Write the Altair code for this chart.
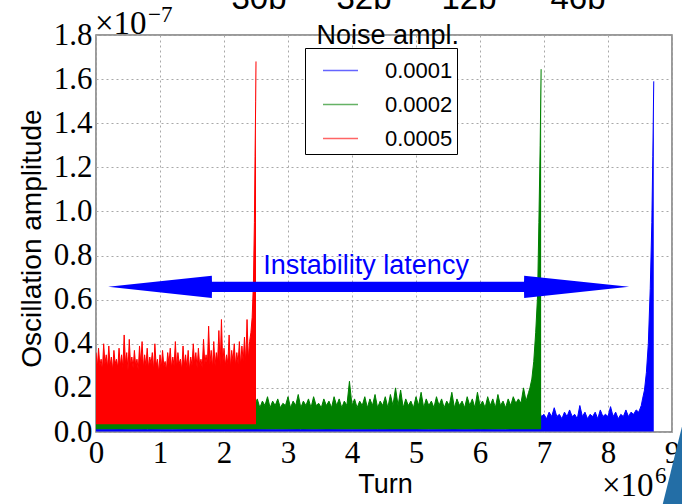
import altair as alt
import pandas as pd

# ---------------- data (x in units of 1e6 turns, y in units of 1e-7) ----------------
SERIES = ["0.0001", "0.0002", "0.0005"]
COLORS = ["#0000ff", "#008000", "#ff0000"]
LOWER = {"0.0001": 0.002, "0.0002": 0.012, "0.0005": 0.035}

# red (0.0005): noise band sampled every 0.02 from x=0, then the spike
RED_NOISE_START, RED_NOISE_STEP = 0.0, 0.02
RED_NOISE = [0.36, 0.29, 0.38, 0.30, 0.33, 0.28, 0.40, 0.31, 0.35, 0.29,
             0.39, 0.30, 0.34, 0.28, 0.37, 0.31, 0.33, 0.29, 0.38, 0.30,
             0.35, 0.29, 0.44, 0.31, 0.36, 0.28, 0.42, 0.30, 0.34, 0.29,
             0.37, 0.30, 0.33, 0.28, 0.39, 0.31, 0.41, 0.29, 0.35, 0.30,
             0.38, 0.29, 0.34, 0.31, 0.36, 0.28, 0.40, 0.30, 0.33, 0.27,
             0.35, 0.29, 0.37, 0.30, 0.32, 0.28, 0.36, 0.31, 0.38, 0.29,
             0.34, 0.30, 0.41, 0.29, 0.36, 0.31, 0.33, 0.28, 0.39, 0.30,
             0.35, 0.29, 0.37, 0.28, 0.34, 0.30, 0.40, 0.31, 0.36, 0.29,
             0.38, 0.30, 0.33, 0.29, 0.42, 0.31, 0.35, 0.30, 0.48, 0.31,
             0.37, 0.29, 0.41, 0.30, 0.36, 0.32, 0.46, 0.30, 0.51, 0.31,
             0.38, 0.30, 0.35, 0.31, 0.44, 0.29, 0.37, 0.32, 0.40, 0.30,
             0.36, 0.31, 0.41, 0.30, 0.39, 0.32, 0.43, 0.31, 0.51, 0.33,
             0.41]
RED_SPIKE_X = [2.42, 2.44, 2.46, 2.475, 2.485, 2.495, 2.50]
RED_SPIKE_Y = [0.45, 0.52, 0.68, 0.95, 1.25, 1.50, 1.68]

# green (0.0002): hidden part under red, visible band, spike
GREEN_HIDDEN_START, GREEN_HIDDEN_STEP = 0.0, 0.2
GREEN_HIDDEN = [0.13, 0.15, 0.12, 0.14, 0.16, 0.13, 0.15, 0.14, 0.12, 0.15, 0.14, 0.13]
GREEN_NOISE_START, GREEN_NOISE_STEP = 2.44, 0.04
GREEN_NOISE = [0.16, 0.12, 0.15, 0.11, 0.14, 0.12, 0.16, 0.11, 0.14, 0.12,
               0.15, 0.11, 0.13, 0.12, 0.16, 0.11, 0.14, 0.12, 0.17, 0.11,
               0.14, 0.12, 0.15, 0.11, 0.16, 0.12, 0.13, 0.11, 0.15, 0.12,
               0.14, 0.11, 0.16, 0.12, 0.15, 0.11, 0.14, 0.12, 0.23, 0.12,
               0.15, 0.11, 0.14, 0.12, 0.16, 0.11, 0.15, 0.12, 0.17, 0.11,
               0.14, 0.12, 0.16, 0.11, 0.17, 0.12, 0.20, 0.12, 0.19, 0.11,
               0.15, 0.12, 0.14, 0.11, 0.16, 0.12, 0.18, 0.11, 0.15, 0.12,
               0.14, 0.11, 0.16, 0.12, 0.15, 0.11, 0.14, 0.12, 0.18, 0.11,
               0.15, 0.12, 0.14, 0.11, 0.16, 0.12, 0.15, 0.11, 0.18, 0.12,
               0.14, 0.11, 0.16, 0.12, 0.15, 0.11, 0.17, 0.12, 0.14, 0.11,
               0.15, 0.12, 0.16, 0.13, 0.15, 0.13, 0.20, 0.14, 0.18]
GREEN_SPIKE_X = [6.78, 6.81, 6.84, 6.87, 6.90, 6.92, 6.94, 6.955]
GREEN_SPIKE_Y = [0.20, 0.24, 0.32, 0.45, 0.62, 0.95, 1.30, 1.645]

# blue (0.0001): hidden part under green, visible band, spike
BLUE_HIDDEN_START, BLUE_HIDDEN_STEP = 0.0, 0.4
BLUE_HIDDEN = [0.012, 0.014, 0.011, 0.013, 0.015, 0.012, 0.014, 0.013, 0.011,
               0.014, 0.013, 0.012, 0.015, 0.013, 0.014, 0.011, 0.013, 0.014]
BLUE_NOISE_START, BLUE_NOISE_STEP = 6.84, 0.04
BLUE_NOISE = [0.09, 0.07, 0.10, 0.07, 0.08, 0.06, 0.09, 0.07, 0.11, 0.07,
              0.08, 0.06, 0.09, 0.07, 0.10, 0.07, 0.08, 0.06, 0.12, 0.07,
              0.09, 0.06, 0.08, 0.07, 0.09, 0.06, 0.10, 0.07, 0.08, 0.07,
              0.115, 0.07, 0.09, 0.06, 0.08, 0.07, 0.10, 0.07, 0.09, 0.08,
              0.10, 0.09, 0.12]
BLUE_SPIKE_X = [8.54, 8.57, 8.60, 8.63, 8.66, 8.685, 8.70, 8.715]
BLUE_SPIKE_Y = [0.15, 0.19, 0.27, 0.40, 0.65, 0.95, 1.25, 1.59]

# annotation arrow ("Instability latency")
ARROW_X = [0.19, 1.81, 1.812, 6.688, 6.69, 8.33]
ARROW_HALF = [0.0, 0.05, 0.023, 0.023, 0.05, 0.0]
ARROW_Y = 0.658

X_TICKS = list(range(10))
Y_TICKS = [0.0, 0.2, 0.4, 0.6, 0.8, 1.0, 1.2, 1.4, 1.6, 1.8]
TOP_LABELS = ["30b", "32b", "12b", "46b"]


def regular(start, step, vals):
    return [round(start + i * step, 4) for i in range(len(vals))], vals


pieces = {
    "0.0005": [regular(RED_NOISE_START, RED_NOISE_STEP, RED_NOISE),
               (RED_SPIKE_X, RED_SPIKE_Y)],
    "0.0002": [regular(GREEN_HIDDEN_START, GREEN_HIDDEN_STEP, GREEN_HIDDEN),
               regular(GREEN_NOISE_START, GREEN_NOISE_STEP, GREEN_NOISE),
               (GREEN_SPIKE_X, GREEN_SPIKE_Y)],
    "0.0001": [regular(BLUE_HIDDEN_START, BLUE_HIDDEN_STEP, BLUE_HIDDEN),
               regular(BLUE_NOISE_START, BLUE_NOISE_STEP, BLUE_NOISE),
               (BLUE_SPIKE_X, BLUE_SPIKE_Y)],
}

rows = []
for s in SERIES:
    for xs, ys in pieces[s]:
        for x, y in zip(xs, ys):
            rows.append({"series": s, "x": x, "upper": y, "lower": LOWER[s]})
df = pd.DataFrame(rows)

arrow_df = pd.DataFrame({
    "x": ARROW_X,
    "top": [ARROW_Y + h for h in ARROW_HALF],
    "bot": [ARROW_Y - h for h in ARROW_HALF],
})

# ---------------- scales / axes ----------------
xscale = alt.Scale(domain=[0, 9], nice=False, zero=False)
yscale = alt.Scale(domain=[0, 1.8], nice=False, zero=False)
color_scale = alt.Scale(domain=SERIES, range=COLORS)

SERIF = "Liberation Serif"
SANS = "Liberation Sans"

xaxis = alt.Axis(values=X_TICKS, format="d", title="Turn", labelFont=SERIF,
                 labelFontSize=31, labelColor="black", labelPadding=6,
                 labelFlush=False, labelOverlap=False, ticks=False, domain=False,
                 grid=True, gridDash=[2, 3], gridColor="#a8a8a8", gridWidth=1,
                 titleFont=SANS, titleFontSize=27, titleFontWeight="normal",
                 titleColor="black", titleX=289, titleY=60,
                 titleBaseline="alphabetic", titleAlign="center")
yaxis = alt.Axis(values=Y_TICKS, format=".1f", title="Oscillation amplitude",
                 labelFont=SERIF, labelFontSize=31, labelColor="black",
                 labelPadding=4, labelFlush=False, labelOverlap=False,
                 ticks=False, domain=False, grid=True, gridDash=[2, 3],
                 gridColor="#a8a8a8", gridWidth=1, titleFont=SANS,
                 titleFontSize=28, titleFontWeight="normal", titleColor="black",
                 titleX=-64, titleY=203, titleAngle=270, titleAlign="center",
                 titleBaseline="middle")

legend = alt.Legend(title=None, orient="none", legendX=209, legendY=13,
                    symbolType="stroke", symbolSize=1225, symbolStrokeWidth=1.5,
                    symbolOpacity=0.6, labelFont=SANS, labelFontSize=22,
                    labelColor="black", labelOffset=26, symbolOffset=13,
                    labelExpr="datum.label + '\u00a0\u00a0\u00a0'",
                    rowPadding=4, padding=4, strokeColor="black",
                    fillColor="white", cornerRadius=0)

base = alt.Chart(df)
layers = []
for s, col in zip(SERIES, COLORS):
    sub = base.transform_filter(alt.datum.series == s)
    layers.append(sub.mark_area(clip=True).encode(
        x=alt.X("x:Q", scale=xscale, axis=xaxis),
        y=alt.Y("upper:Q", scale=yscale, axis=yaxis),
        y2="lower:Q",
        fill=alt.value(col),
    ))
    layers.append(sub.mark_line(clip=True, strokeWidth=1).encode(
        x=alt.X("x:Q", scale=xscale, axis=xaxis),
        y=alt.Y("upper:Q", scale=yscale, axis=yaxis),
        stroke=alt.Stroke("series:N", scale=color_scale, legend=legend),
    ))

arrow = alt.Chart(arrow_df).mark_area(color="#0000ff").encode(
    x=alt.X("x:Q", scale=xscale, axis=xaxis),
    y=alt.Y("top:Q", scale=yscale, axis=yaxis),
    y2="bot:Q",
)

ann_df = pd.DataFrame({"x": [4.22], "y": [0.717], "t": ["Instability latency"]})
annotation = alt.Chart(ann_df).mark_text(
    font=SANS, fontSize=27, color="#0000ff", align="center", baseline="alphabetic"
).encode(x=alt.X("x:Q", scale=xscale), y=alt.Y("y:Q", scale=yscale), text="t:N")

legend_title_df = pd.DataFrame({"x": [4.56], "y": [1.761], "t": ["Noise ampl."]})
legend_title = alt.Chart(legend_title_df).mark_text(
    font=SANS, fontSize=27, color="black", align="center", baseline="alphabetic"
).encode(x=alt.X("x:Q", scale=xscale), y=alt.Y("y:Q", scale=yscale), text="t:N")


def txt(t, x, y, size, font=SERIF, align="left"):
    return alt.Chart(pd.DataFrame({"t": [t]})).mark_text(
        font=font, fontSize=size, color="black", align=align,
        baseline="alphabetic").encode(
        x=alt.value(x), y=alt.value(y), text="t:N")


# scale multipliers
mult_y = txt("×10", -1, -1, 33) + txt("−7", 52, -13, 23)
mult_x = txt("×10", 506, 461, 33) + txt("6", 559, 448, 23)

top_x = [163, 268, 373, 482]
top_text = alt.layer(*[txt(t, x, -26, 33, font=SANS, align="center")
                       for t, x in zip(TOP_LABELS, top_x)])

corner = alt.Chart(pd.DataFrame({"a": [0]})).mark_rule(
    color="#236ea6", strokeWidth=28, strokeCap="butt").encode(
    x=alt.value(602), y=alt.value(385), x2=alt.value(578), y2=alt.value(482))

chart = alt.layer(
    *layers, arrow, annotation, legend_title, mult_y, mult_x, top_text, corner
).properties(
    width=576, height=397,
    autosize=alt.AutoSizeParams(type="none"),
    padding={"left": 96, "top": 35, "right": 10, "bottom": 72},
    background="white",
).configure_view(stroke="#7a7a7a", strokeWidth=1.5)

chart.save("out.html", embed_options={"renderer": "svg", "actions": False})
